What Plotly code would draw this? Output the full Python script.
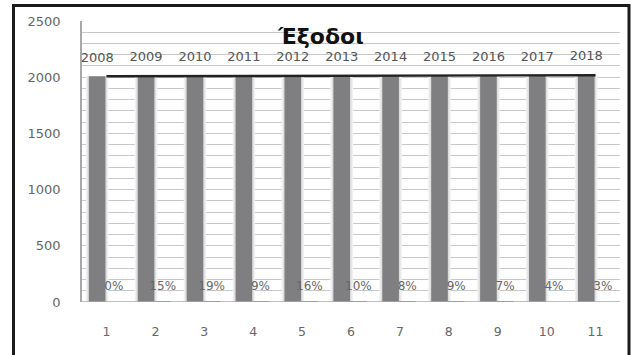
import plotly.graph_objects as go

# Data
categories = [1, 2, 3, 4, 5, 6, 7, 8, 9, 10, 11]
years = [2008, 2009, 2010, 2011, 2012, 2013, 2014, 2015, 2016, 2017, 2018]
change_pct = [0.00, 0.15, 0.19, 0.09, 0.16, 0.10, 0.08, 0.09, 0.07, 0.04, 0.03]
y_ticks = [0, 500, 1000, 1500, 2000, 2500]
title_text = "Έξοδοι"

W, H = 636, 355
ML, MR, MT, MB = 82, 16, 21, 53

FONT = "DejaVu Sans"
GRID = "#c8c8c8"
BAR = "#7f7f81"

BAR_OFF, BAR_W = -0.36, 0.34     # left bar of each group (years)
PCT_OFF = -0.02                  # right bar of each group (percentages)
HALO = 0.06

fig = go.Figure()

# soft shadow around the year bars
fig.add_trace(go.Bar(
    x=categories, y=years, offset=BAR_OFF - HALO, width=BAR_W + 2 * HALO,
    marker=dict(color="#f0f0f0", line=dict(width=0)), hoverinfo="skip", showlegend=False))
fig.add_trace(go.Bar(
    x=categories, y=years, offset=BAR_OFF - HALO / 2, width=BAR_W + HALO,
    marker=dict(color="#dedede", line=dict(width=0)), hoverinfo="skip", showlegend=False))

# year bars
fig.add_trace(go.Bar(
    x=categories, y=years, offset=BAR_OFF, width=BAR_W,
    marker=dict(color=BAR, line=dict(width=0)), showlegend=False))

# percentage bars (tiny on this scale)
fig.add_trace(go.Bar(
    x=categories, y=change_pct, offset=PCT_OFF, width=BAR_W,
    marker=dict(color=BAR, line=dict(width=0)), showlegend=False))

# line through the yearly values
fig.add_trace(go.Scatter(
    x=categories, y=years, mode="lines",
    line=dict(color="#222222", width=2.4), showlegend=False))

# data labels
fig.add_trace(go.Scatter(
    x=[c + BAR_OFF + BAR_W / 2 for c in categories],
    y=[v + 160 for v in years],
    mode="text", text=[str(v) for v in years],
    textfont=dict(family=FONT, size=13, color="#555555"),
    hoverinfo="skip", showlegend=False))
fig.add_trace(go.Scatter(
    x=[c + PCT_OFF + BAR_W / 2 for c in categories],
    y=[v + 133 for v in change_pct],
    mode="text", text=[f"{round(v * 100)}%" for v in change_pct],
    textfont=dict(family=FONT, size=12, color="#666666"),
    hoverinfo="skip", showlegend=False))


def px_x(p):
    return (p - ML) / (W - ML - MR)


def px_y(p):
    return (H - MB - p) / (H - MT - MB)


fig.update_layout(
    width=W, height=H,
    margin=dict(l=ML, r=MR, t=MT, b=MB),
    paper_bgcolor="white", plot_bgcolor="white",
    barmode="overlay",
    font=dict(family=FONT, size=12.5, color="#595959"),
    title=dict(text=f"<b>{title_text}</b>", xref="container", x=321 / W, xanchor="center",
               yref="container", y=1 - 36 / H, yanchor="middle",
               font=dict(family=FONT, size=22, color="#111111")),
    xaxis=dict(
        range=[0.5, 11.5], tickvals=categories, ticktext=[str(c) for c in categories],
        showgrid=False, zeroline=False, showline=False,
        ticks="", ticklabelstandoff=20,
        tickfont=dict(family=FONT, size=12.5, color="#666666")),
    yaxis=dict(
        range=[0, 2500], tickvals=y_ticks,
        showgrid=True, gridcolor=GRID, gridwidth=1,
        minor=dict(dtick=100, showgrid=True, gridcolor=GRID, gridwidth=1),
        zeroline=False, showline=True, linecolor="#a8a8a8", linewidth=1.5,
        ticks="", ticklabelstandoff=17,
        tickfont=dict(family=FONT, size=13, color="#666666")),
    shapes=[
        # baseline
        dict(type="line", xref="paper", yref="y", x0=0, x1=1, y0=0, y1=0,
             line=dict(color="#a8a8a8", width=1.5)),
        # outer frame (bottom edge runs past the page)
        dict(type="rect", xref="paper", yref="paper",
             x0=px_x(13.5), x1=px_x(629), y0=px_y(400), y1=px_y(5.5),
             line=dict(color="#1a1a1a", width=3), fillcolor="rgba(0,0,0,0)",
             layer="above"),
    ],
)

fig.write_html("out.html")
